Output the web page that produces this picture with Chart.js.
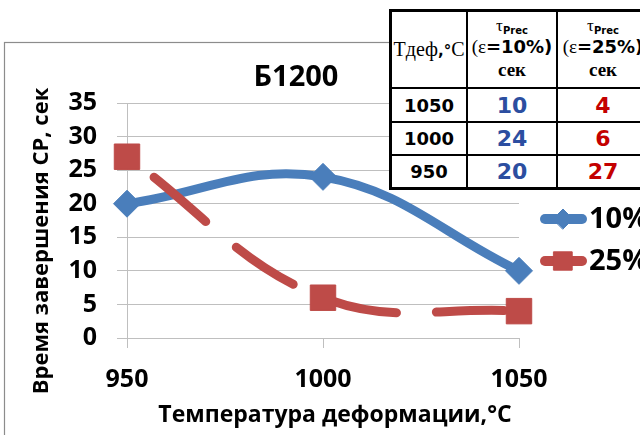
<!DOCTYPE html>
<html>
<head>
<meta charset="utf-8">
<script src="https://cdn.jsdelivr.net/npm/chart.js@4.4.1/dist/chart.umd.min.js"></script>
<style>
  html, body { margin: 0; padding: 0; background: #fff; width: 640px; height: 435px; overflow: hidden; }
  #wrap { position: relative; width: 640px; height: 435px; overflow: hidden; }
  #chart { position: absolute; left: 0; top: 0; }
  #tbl {
    position: absolute; left: 389px; top: 9px;
    display: grid;
    grid-template-columns: 74px 88px 90px;
    grid-template-rows: 75px 32px 31px 31px;
    column-gap: 2px; row-gap: 2px;
    border: 3px solid #000; background: #000;
  }
  #tbl > div {
    background: #fff; display: flex; flex-direction: column;
    align-items: center; justify-content: center; white-space: nowrap; color: #000;
  }
  .serif { font-family: "Liberation Serif", "DejaVu Serif", serif; }
  .heavy { font-family: "DejaVu Sans", sans-serif; font-weight: bold; }
  .hdr1 { font-size: 20px; line-height: 22px; }
  .hdr1 .heavy { font-size: 15px; }
  .tau { font-size: 17px; line-height: 16px; height: 16px; margin-top: 0px; }
  .tau sub { font-size: 10px; vertical-align: -3px; }
  .eps { font-size: 19px; line-height: 25px; }
  .eps .heavy { font-size: 18px; }
  .sec { font-size: 19px; font-weight: bold; line-height: 22px; }
  .cat { font-size: 18px; }
  .val { font-size: 22px; }
  .blue { color: #2C4EA0; }
  .red { color: #C40000; }
</style>
</head>
<body>
<div id="wrap">
  <canvas id="chart" width="640" height="435"></canvas>
  <div id="tbl"></div>
</div>
<script>
// Deformation temperatures (°C) and time to completion of recrystallisation (s)
const categories = ['950', '1000', '1050'];
const strain10 = [20, 24, 10];
const strain25 = [27, 6, 4];
const seriesLabels = ['10%', '25%'];
const yTickValues = [0, 5, 10, 15, 20, 25, 30, 35];

const chartTitle = 'Б1200';
const xTitle = 'Температура деформации,°C';
const yTitle = 'Время завершения СР, сек';

const BLUE = '#4A7EBB';
const RED = '#BE4B48';
const GRID = '#BFBFBF';
const SANS = '"Open Sans", "Noto Sans", sans-serif';

// Frame, titles and the right-hand legend
const decorations = {
  id: 'decorations',
  beforeDraw(chart) {
    const ctx = chart.ctx;
    ctx.save();
    ctx.strokeStyle = '#8C8C8C';
    ctx.lineWidth = 1.2;
    ctx.strokeRect(4.5, 42.5, 700, 500);
    ctx.restore();
  },
  afterDraw(chart) {
    const ctx = chart.ctx;
    ctx.save();
    ctx.fillStyle = '#000';
    ctx.textAlign = 'center';
    ctx.textBaseline = 'middle';

    ctx.font = 'bold 29px ' + SANS;
    ctx.fillText(chartTitle, 296, 78);

    ctx.font = 'bold 23px ' + SANS;
    ctx.fillText(xTitle, 335, 415);

    ctx.save();
    ctx.translate(42, 241);
    ctx.rotate(-Math.PI / 2);
    ctx.font = 'bold 22px ' + SANS;
    ctx.fillText(yTitle, 0, 0);
    ctx.restore();

    const rows = [219, 261];
    const markerR = [10, 13];
    chart.data.datasets.forEach((ds, i) => {
      const y = rows[i];
      ctx.strokeStyle = ds.borderColor;
      ctx.lineWidth = 10;
      ctx.lineCap = 'round';
      ctx.beginPath();
      ctx.moveTo(545, y);
      ctx.lineTo(582, y);
      ctx.stroke();
      ctx.fillStyle = ds.pointBackgroundColor;
      ctx.strokeStyle = ds.pointBorderColor;
      ctx.lineWidth = 1;
      Chart.helpers.drawPoint(ctx, { pointStyle: ds.pointStyle, radius: markerR[i], borderWidth: 1, rotation: 0 }, 563, y);
      ctx.fillStyle = '#000';
      ctx.textAlign = 'left';
      ctx.font = 'bold 29px ' + SANS;
      ctx.fillText(ds.label, 589, y + 1);
    });
    ctx.restore();
  }
};

new Chart(document.getElementById('chart'), {
  type: 'line',
  data: {
    labels: categories,
    datasets: [
      {
        label: seriesLabels[0],
        data: strain10,
        order: 1,
        borderColor: BLUE,
        backgroundColor: BLUE,
        borderWidth: 9,
        borderCapStyle: 'round',
        borderJoinStyle: 'round',
        tension: 0.4,
        pointStyle: 'rectRot',
        pointRadius: 13.5,
        pointBackgroundColor: BLUE,
        pointBorderColor: BLUE,
        pointBorderWidth: 1,
        clip: false
      },
      {
        label: seriesLabels[1],
        data: strain25,
        order: 0,
        borderColor: RED,
        backgroundColor: RED,
        borderWidth: 9,
        borderCapStyle: 'round',
        borderJoinStyle: 'round',
        borderDash: [68, 40],
        borderDashOffset: 74,
        tension: 0.4,
        pointStyle: 'rect',
        pointRadius: 18,
        pointBackgroundColor: RED,
        pointBorderColor: RED,
        pointBorderWidth: 1,
        clip: false
      }
    ]
  },
  options: {
    responsive: false,
    animation: false,
    events: [],
    layout: { padding: { left: 0, right: 121, top: 103, bottom: 0 } },
    plugins: {
      legend: { display: false },
      title: { display: false },
      tooltip: { enabled: false }
    },
    scales: {
      x: {
        type: 'category',
        offset: false,
        afterFit(scale) { scale.height = 97; },
        grid: { display: true, drawOnChartArea: false, drawTicks: true, tickLength: 10, color: GRID, lineWidth: 1 },
        border: { display: true, color: GRID, width: 1 },
        ticks: { color: '#000', padding: 17, font: { family: SANS, size: 25, weight: 'bold' }, maxRotation: 0 }
      },
      y: {
        min: 0,
        max: 35,
        afterFit(scale) { scale.width = 127; },
        afterBuildTicks(scale) { scale.ticks = yTickValues.map(v => ({ value: v })); },
        grid: { display: true, drawTicks: true, tickLength: 10, color: GRID, lineWidth: 1 },
        border: { display: true, color: GRID, width: 1 },
        ticks: { color: '#000', padding: 20, font: { family: SANS, size: 25, weight: 'bold' } }
      }
    }
  },
  plugins: [decorations]
});

// Summary table: one row per temperature, highest first
(function buildTable() {
  const tbl = document.getElementById('tbl');
  const cell = (html) => { const d = document.createElement('div'); d.innerHTML = html; tbl.appendChild(d); };
  cell('<span class="hdr1"><span class="serif">Тдеф</span><span class="heavy">,°</span><span class="serif">C</span></span>');
  seriesLabels.forEach(lbl => {
    cell('<div class="tau serif">τ<sub class="heavy">Prec</sub></div>' +
         '<div class="eps"><span class="serif">(ε</span><span class="heavy">=' + lbl + ')</span></div>' +
         '<div class="sec serif">сек</div>');
  });
  for (let i = categories.length - 1; i >= 0; i--) {
    cell('<span class="heavy cat">' + categories[i] + '</span>');
    cell('<span class="heavy val blue">' + strain10[i] + '</span>');
    cell('<span class="heavy val red">' + strain25[i] + '</span>');
  }
})();
</script>
</body>
</html>
